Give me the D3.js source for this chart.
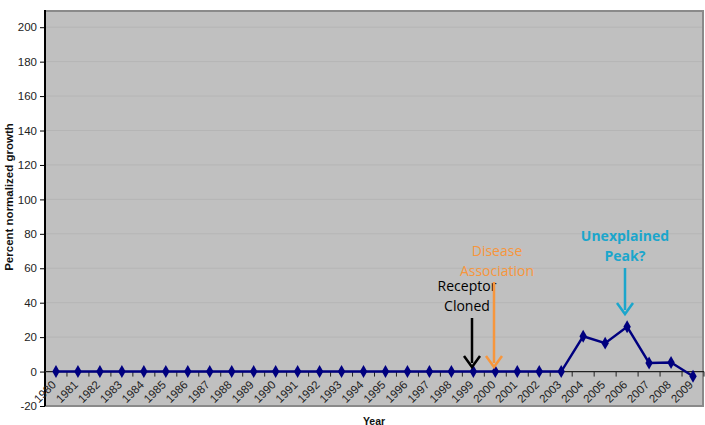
<!DOCTYPE html>
<html lang="en">
<head>
  <meta charset="utf-8" />
  <title>Percent normalized growth</title>
  <script src="https://cdn.jsdelivr.net/npm/d3@7"></script>
  <style>
    body { margin: 0; background: #fff; }
    text { font-family: "Liberation Sans", Arial, sans-serif; }
  </style>
</head>
<body>
  <script>
    // data
    var years = d3.range(1980, 2010);
    var growth = [0, 0, 0, 0, 0, 0, 0, 0, 0, 0,
                  0, 0, 0, 0, 0, 0, 0, 0, 0, 0,
                  0, 0, 0, 0, 20.5, 16.5, 26, 5, 5.3, -2.7];
    var yTicks = [-20, 0, 20, 40, 60, 80, 100, 120, 140, 160, 180, 200];

    var notes = [
      { lines: ["Receptor", "Cloned"], color: "#000000", bold: false, cx: 467, ty: 291, y0: 318, y1: 367, ax: 472 },
      { lines: ["Disease", "Association"], color: "#f7963c", bold: false, cx: 497, ty: 256, y0: 282, y1: 367, ax: 494 },
      { lines: ["Unexplained", "Peak?"], color: "#1ba6cc", bold: true, cx: 625, ty: 241, y0: 268, y1: 314, ax: 625 }
    ];

    drawChart();

    function drawChart() {
      var width = 705, height = 425;
      // plot box edges (note: "top" is a reserved window property)
      var pl = 45, pr = 704, pt = 10, pb = 406;

      var svg = d3.select("body").append("svg")
        .attr("width", width).attr("height", height);

      var x = d3.scaleBand().domain(years).range([pl, pr]);
      var y = d3.scaleLinear().domain([-20, 210]).range([pb, pt]);
      var cx = function(yr) { return x(yr) + x.bandwidth() / 2; };

      // plot area
      svg.append("rect")
        .attr("x", pl).attr("y", pt)
        .attr("width", pr - pl).attr("height", pb - pt)
        .attr("fill", "#c0c0c0");

      svg.append("g").selectAll("line")
        .data(yTicks.filter(function(d) { return d > 0; }))
        .enter().append("line")
        .attr("x1", pl).attr("x2", pr)
        .attr("y1", function(d) { return y(d); })
        .attr("y2", function(d) { return y(d); })
        .attr("stroke", "#b5b5b5").attr("stroke-width", 1);

      // border on top / right / bottom
      svg.append("path")
        .attr("d", "M" + pl + "," + (pt + 1) + "H" + (pr - 1) + "V" + pb + "H" + pl)
        .attr("fill", "none").attr("stroke", "#8a8a8a").attr("stroke-width", 2);

      // y axis
      var yAxis = svg.append("g")
        .attr("transform", "translate(" + pl + ",0)")
        .call(d3.axisLeft(y).tickValues(yTicks).tickSize(5).tickPadding(3)
          .tickFormat(function(d) { return String(d); }));
      yAxis.select(".domain").attr("d", "M0," + pt + "V" + pb).attr("stroke", "#000").attr("stroke-width", 2);
      yAxis.selectAll(".tick line").attr("stroke", "#000");
      yAxis.selectAll("text").attr("font-size", 11.5).attr("fill", "#222")
        .style("font-family", "'Liberation Sans', Arial, sans-serif");

      // category axis crossing at zero
      var zeroY = y(0);
      var xg = svg.append("g");
      xg.append("line")
        .attr("x1", pl).attr("x2", pr)
        .attr("y1", zeroY).attr("y2", zeroY)
        .attr("stroke", "#222").attr("stroke-width", 1.2);
      xg.selectAll("line.tk")
        .data(years)
        .enter().append("line")
        .attr("class", "tk")
        .attr("x1", function(d) { return x(d) + x.bandwidth(); })
        .attr("x2", function(d) { return x(d) + x.bandwidth(); })
        .attr("y1", zeroY).attr("y2", zeroY + 5)
        .attr("stroke", "#222");
      xg.selectAll("text")
        .data(years)
        .enter().append("text")
        .attr("transform", function(d) {
          return "translate(" + (cx(d) - 2) + "," + (zeroY + 11) + ") rotate(-45)";
        })
        .attr("text-anchor", "end")
        .attr("dy", "0.35em")
        .attr("font-size", 11.5)
        .attr("fill", "#222")
        .text(function(d) { return d; });

      // series
      var line = d3.line()
        .x(function(d, i) { return cx(years[i]); })
        .y(function(d) { return y(d); });

      svg.append("path")
        .datum(growth)
        .attr("d", line)
        .attr("fill", "none")
        .attr("stroke", "#00007f")
        .attr("stroke-width", 2.4);

      svg.append("g").selectAll("path")
        .data(growth)
        .enter().append("path")
        .attr("transform", function(d, i) {
          return "translate(" + cx(years[i]) + "," + y(d) + ")";
        })
        .attr("d", d3.symbol().type(d3.symbolDiamond).size(48))
        .attr("fill", "#00007f");

      // annotations
      var ann = svg.append("g");
      notes.forEach(function(n) {
        var t = ann.append("text")
          .attr("x", n.cx).attr("y", n.ty)
          .attr("text-anchor", "middle")
          .attr("fill", n.color)
          .attr("font-size", 14)
          .attr("font-weight", n.bold ? "bold" : "normal")
          .style("font-family", "'Open Sans', sans-serif");
        n.lines.forEach(function(s, i) {
          t.append("tspan").attr("x", n.cx).attr("dy", i ? 20 : 0).text(s);
        });
        ann.append("line")
          .attr("x1", n.ax).attr("x2", n.ax)
          .attr("y1", n.y0).attr("y2", n.y1 - 4)
          .attr("stroke", n.color).attr("stroke-width", 2.5);
        ann.append("path")
          .attr("d", "M" + (n.ax - 8) + "," + (n.y1 - 11) + "L" + n.ax + "," + n.y1 + "L" + (n.ax + 8) + "," + (n.y1 - 11))
          .attr("fill", "none").attr("stroke", n.color).attr("stroke-width", 2.5);
      });

      // axis titles
      svg.append("text")
        .attr("transform", "translate(13,197) rotate(-90)")
        .attr("text-anchor", "middle")
        .attr("font-size", 11.5)
        .attr("font-weight", "bold")
        .attr("fill", "#111")
        .text("Percent normalized growth");

      svg.append("text")
        .attr("x", 374).attr("y", 425)
        .attr("text-anchor", "middle")
        .attr("font-size", 10.5)
        .attr("font-weight", "bold")
        .attr("fill", "#111")
        .text("Year");
    }
  </script>
</body>
</html>
